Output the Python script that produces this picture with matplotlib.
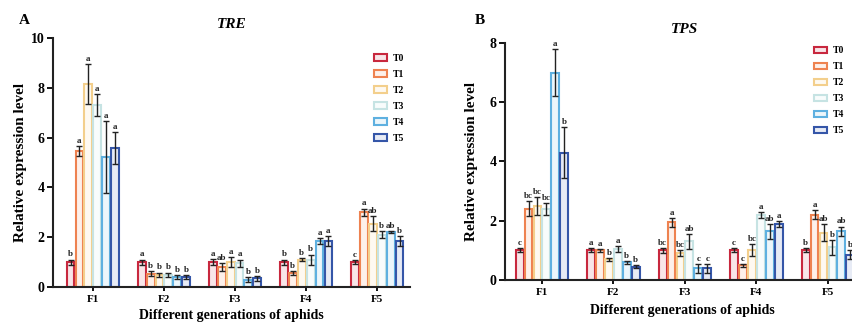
import numpy as np
import matplotlib.pyplot as plt
from matplotlib.patches import Patch
from matplotlib.colors import to_rgb

plt.rcParams["font.family"] = ["Liberation Serif", "DejaVu Serif"]
plt.rcParams["font.weight"] = "bold"

generations = ["F1", "F2", "F3", "F4", "F5"]
treatments = ["T0", "T1", "T2", "T3", "T4", "T5"]
colors = ["#C8283E", "#EE8250", "#F3CF8C", "#C6E3E3", "#5EB0E0", "#3556A8"]

# TRE: rows = treatments, cols = generations
tre_mean = [
    [1.00, 1.00, 1.00, 1.00, 1.00],
    [5.45, 0.53, 0.80, 0.55, 3.00],
    [8.15, 0.50, 1.00, 1.10, 2.55],
    [7.30, 0.50, 0.95, 1.10, 2.10],
    [5.22, 0.40, 0.30, 1.85, 2.20],
    [5.58, 0.40, 0.35, 1.85, 1.85],
]
tre_err = [
    [0.10, 0.10, 0.12, 0.10, 0.08],
    [0.20, 0.10, 0.15, 0.08, 0.15],
    [0.80, 0.08, 0.20, 0.05, 0.30],
    [0.45, 0.08, 0.15, 0.20, 0.15],
    [1.45, 0.08, 0.10, 0.12, 0.05],
    [0.65, 0.08, 0.10, 0.20, 0.20],
]
tre_letters = [
    ["b", "a", "a", "b", "c"],
    ["a", "b", "ab", "b", "a"],
    ["a", "b", "a", "b", "ab"],
    ["a", "b", "a", "b", "b"],
    ["a", "b", "b", "a", "ab"],
    ["a", "b", "b", "a", "b"],
]

# TPS
tps_mean = [
    [1.00, 1.00, 1.00, 1.00, 1.00],
    [2.40, 1.00, 1.95, 0.50, 2.20],
    [2.50, 0.70, 0.90, 1.00, 1.60],
    [2.40, 1.05, 1.30, 2.20, 1.10],
    [7.00, 0.60, 0.40, 1.65, 1.65],
    [4.30, 0.45, 0.40, 1.90, 0.85],
]
tps_err = [
    [0.07, 0.07, 0.08, 0.07, 0.07],
    [0.25, 0.05, 0.15, 0.05, 0.15],
    [0.30, 0.05, 0.10, 0.20, 0.30],
    [0.20, 0.10, 0.25, 0.10, 0.25],
    [0.80, 0.05, 0.15, 0.25, 0.15],
    [0.85, 0.05, 0.15, 0.10, 0.15],
]
tps_letters = [
    ["c", "a", "bc", "c", "b"],
    ["bc", "a", "a", "c", "a"],
    ["bc", "b", "bc", "bc", "ab"],
    ["bc", "a", "ab", "a", "b"],
    ["a", "b", "c", "ab", "ab"],
    ["b", "b", "c", "a", "b"],
]


def tint(c, f=0.12):
    r = np.array(to_rgb(c))
    return tuple(1 - f * (1 - r))


def draw_panel(ax, means, errs, letters, ymax, title, title_x):
    x = np.arange(1, len(generations) + 1)
    width = 0.125
    for i, t in enumerate(treatments):
        off = (i - 2.5) * width
        m = np.array(means[i])
        e = np.array(errs[i])
        ax.bar(x + off, m, width=width * 0.88, facecolor=tint(colors[i]),
               edgecolor=colors[i], linewidth=1.5, label=t, zorder=2)
        ax.errorbar(x + off, m, yerr=e, fmt="none", ecolor="#222222",
                    elinewidth=1.0, capsize=2, capthick=1.0, zorder=3)
        for xi, mi, ei, lt in zip(x + off, m, e, letters[i]):
            ax.text(xi, mi + ei + ymax * 0.005, lt, ha="center", va="bottom",
                    fontsize=6.5, fontweight="bold", color="#222222")
    ax.set_ylim(0, ymax)
    ax.set_yticks(np.arange(0, ymax + 1, 2))
    ax.set_xticks(x)
    ax.set_xticklabels(generations, fontsize=8, fontweight="bold")
    for lab in ax.get_yticklabels():
        lab.set_fontsize(10)
        lab.set_fontweight("bold")
    for s in ["top", "right"]:
        ax.spines[s].set_visible(False)
    for s in ["left", "bottom"]:
        ax.spines[s].set_linewidth(1.5)
        ax.spines[s].set_color("#222222")
    ax.tick_params(axis="y", length=4, width=1.3, pad=2)
    ax.tick_params(axis="x", length=3, width=1.3, pad=3)
    ax.set_xlabel("Different generations of aphids", fontsize=10, fontweight="bold")
    ax.set_ylabel("Relative expression level", fontsize=11, fontweight="bold")
    ax.text(title_x, 1.03, title, transform=ax.transAxes, ha="center", va="bottom",
            fontsize=11, fontweight="bold", style="italic")


fig = plt.figure(figsize=(8.53, 3.22), dpi=100)

axA = fig.add_axes([0.0621, 0.1087, 0.4186, 0.773])
draw_panel(axA, tre_mean, tre_err, tre_letters, 10, "TRE", 0.50)
axA.set_xlim(0.44, 5.46)
axA.xaxis.set_label_coords(0.50, -0.09)
axA.yaxis.set_label_coords(-0.072, 0.5)

axB = fig.add_axes([0.592, 0.1304, 0.408, 0.7361])
draw_panel(axB, tps_mean, tps_err, tps_letters, 8, "TPS", 0.517)
axB.set_xlim(0.483, 5.35)
axB.xaxis.set_label_coords(0.51, -0.10)
axB.yaxis.set_label_coords(-0.078, 0.5)

handles = [Patch(facecolor=tint(c), edgecolor=c, linewidth=1.5) for c in colors]
for bx, by in [(0.434, 0.845), (0.950, 0.868)]:
    fig.legend(handles, treatments, loc="upper left", bbox_to_anchor=(bx, by),
               frameon=False, handlelength=1.3, handleheight=0.7,
               labelspacing=0.72, handletextpad=0.6, borderaxespad=0,
               prop={"weight": "bold", "size": 7})

fig.text(0.022, 0.935, "A", fontsize=11, fontweight="bold", ha="left", va="center")
fig.text(0.557, 0.935, "B", fontsize=11, fontweight="bold", ha="left", va="center")

fig.savefig("out.png", dpi=100)
